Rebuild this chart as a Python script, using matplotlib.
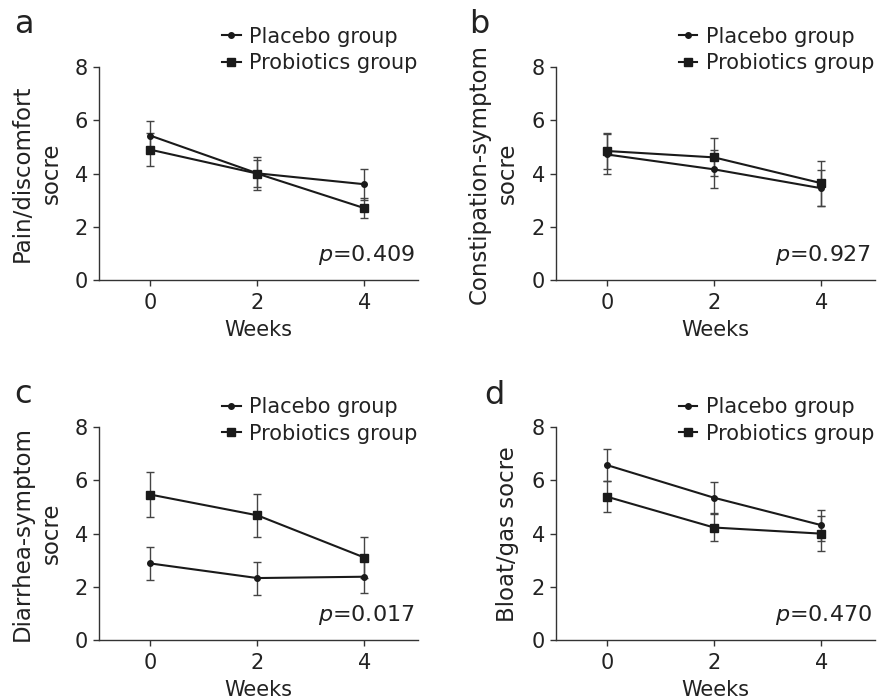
#!/usr/bin/env python3
"""
Symptom scores over time: placebo vs probiotics (4 panels).
"""

import matplotlib
matplotlib.use("Agg")
import matplotlib.pyplot as plt
from matplotlib.lines import Line2D

# Data
weeks = [0, 2, 4]

pain_placebo = [5.43, 4.01, 3.60]
pain_placebo_err = [0.56, 0.62, 0.58]
pain_probiotic = [4.90, 4.00, 2.70]
pain_probiotic_err = [0.61, 0.52, 0.38]

constip_placebo = [4.72, 4.16, 3.45]
constip_placebo_err = [0.75, 0.71, 0.68]
constip_probiotic = [4.85, 4.61, 3.64]
constip_probiotic_err = [0.68, 0.71, 0.85]

diarrhea_placebo = [2.88, 2.33, 2.38]
diarrhea_placebo_err = [0.62, 0.62, 0.60]
diarrhea_probiotic = [5.47, 4.69, 3.10]
diarrhea_probiotic_err = [0.85, 0.80, 0.77]

bloat_placebo = [6.58, 5.35, 4.32]
bloat_placebo_err = [0.60, 0.58, 0.58]
bloat_probiotic = [5.39, 4.23, 4.00]
bloat_probiotic_err = [0.58, 0.50, 0.66]

panel_letters = ['a', 'b', 'c', 'd']
ylabels = ['Pain/discomfort\nsocre', 'Constipation-symptom\nsocre',
           'Diarrhea-symptom\nsocre', 'Bloat/gas socre']
p_values = ['0.409', '0.927', '0.017', '0.470']
group_names = ['Placebo group', 'Probiotics group']
yticks = [0, 2, 4, 6, 8]

plt.rcParams['font.family'] = ['DejaVu Sans']
plt.rcParams['mathtext.fontset'] = 'dejavusans'

LINE = '#1a1a1a'
ERR = '#444444'
TXT = '#222222'


def draw_panel(fig, rect, letter, ylabel, pval, plac, plac_err, prob, prob_err,
               legend_y, letter_xy):
    ax = fig.add_axes(rect)

    # Placebo: circle markers
    ax.errorbar(weeks, plac, yerr=plac_err, color=LINE, ecolor=ERR,
                elinewidth=1.0, capsize=3, capthick=1.0, linewidth=1.5,
                marker='o', markersize=4, zorder=3)
    # Probiotics: square markers
    ax.errorbar(weeks, prob, yerr=prob_err, color=LINE, ecolor=ERR,
                elinewidth=1.0, capsize=3, capthick=1.0, linewidth=1.5,
                marker='s', markersize=6, zorder=3)

    ax.set_xlim(-0.95, 5)
    ax.set_ylim(0, 8)
    ax.set_xticks(weeks)
    ax.set_yticks(yticks)
    ax.spines['top'].set_visible(False)
    ax.spines['right'].set_visible(False)
    for s in ('left', 'bottom'):
        ax.spines[s].set_color('#333333')
        ax.spines[s].set_linewidth(1.0)
    ax.tick_params(axis='both', labelsize=15, length=4.5, width=1.0,
                   color='#333333', labelcolor=TXT)
    ax.tick_params(axis='x', pad=5)

    ax.set_xlabel('Weeks', fontsize=15, color=TXT, labelpad=5)
    ax.set_ylabel(ylabel, fontsize=16.5, color=TXT, linespacing=1.3)
    ax.yaxis.set_label_coords(-0.115, 0.5)

    ax.text(0.99, 0.09, r'$p$=' + pval, transform=ax.transAxes,
            ha='right', va='baseline', fontsize=16, color=TXT)

    # legend handles without the error bars
    handles = [Line2D([], [], color=LINE, linewidth=1.5, marker='o', markersize=4),
               Line2D([], [], color=LINE, linewidth=1.5, marker='s', markersize=6)]
    leg = ax.legend(handles, group_names, loc='upper left',
                    bbox_to_anchor=(0.385, legend_y),
                    frameon=False, fontsize=15, handlelength=0.9,
                    handletextpad=0.4, borderpad=0, borderaxespad=0,
                    labelspacing=0.32)
    for t in leg.get_texts():
        t.set_color(TXT)

    fig.text(letter_xy[0], letter_xy[1], letter, fontsize=23,
             ha='left', va='baseline', color=TXT)
    return ax


def main():
    fig = plt.figure(figsize=(8.81, 7.0), dpi=100)

    rects = [
        [0.1127, 0.600, 0.3618, 0.304],
        [0.6310, 0.600, 0.3620, 0.304],
        [0.1127, 0.0857, 0.3618, 0.3039],
        [0.6310, 0.0857, 0.3620, 0.3039],
    ]
    data = [
        (pain_placebo, pain_placebo_err, pain_probiotic, pain_probiotic_err),
        (constip_placebo, constip_placebo_err, constip_probiotic, constip_probiotic_err),
        (diarrhea_placebo, diarrhea_placebo_err, diarrhea_probiotic, diarrhea_probiotic_err),
        (bloat_placebo, bloat_placebo_err, bloat_probiotic, bloat_probiotic_err),
    ]
    legend_ys = [1.19, 1.19, 1.143, 1.143]
    letter_pos = [(14 / 881, 1 - 33 / 700), (469 / 881, 1 - 33 / 700),
                  (14 / 881, 1 - 403 / 700), (484 / 881, 1 - 404 / 700)]

    for i in range(4):
        plac, plac_err, prob, prob_err = data[i]
        draw_panel(fig, rects[i], panel_letters[i], ylabels[i], p_values[i],
                   plac, plac_err, prob, prob_err, legend_ys[i], letter_pos[i])

    fig.savefig('out.png', dpi=100)
    plt.close(fig)


if __name__ == "__main__":
    main()
